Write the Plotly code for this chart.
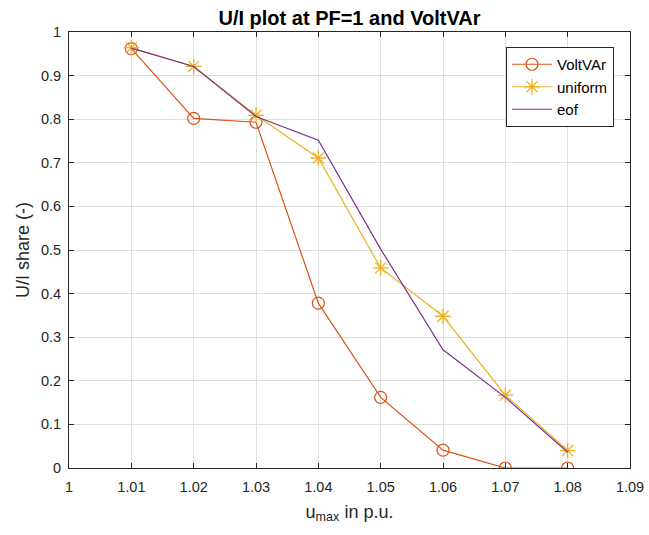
import plotly.graph_objects as go

# Maximum voltage (p.u.) and U/I share per control strategy
u_max = [1.01, 1.02, 1.03, 1.04, 1.05, 1.06, 1.07, 1.08]
voltvar = [0.962, 0.802, 0.793, 0.378, 0.162, 0.041, 0.0, 0.0]
uniform = [0.964, 0.921, 0.809, 0.711, 0.459, 0.348, 0.167, 0.040]
eof = [0.963, 0.921, 0.806, 0.752, 0.502, 0.271, 0.162, 0.036]

x_ticks = [1.0, 1.01, 1.02, 1.03, 1.04, 1.05, 1.06, 1.07, 1.08, 1.09]
x_tick_text = ["1", "1.01", "1.02", "1.03", "1.04", "1.05", "1.06", "1.07", "1.08", "1.09"]
y_ticks = [0, 0.1, 0.2, 0.3, 0.4, 0.5, 0.6, 0.7, 0.8, 0.9, 1.0]
y_tick_text = ["0", "0.1", "0.2", "0.3", "0.4", "0.5", "0.6", "0.7", "0.8", "0.9", "1"]

FONT = "Liberation Sans, Arial, sans-serif"
AX = "#262626"

fig = go.Figure()
fig.add_trace(go.Scatter(
    x=u_max, y=voltvar, name="VoltVAr", mode="lines+markers",
    line=dict(color="#D95319", width=1.2),
    marker=dict(symbol="circle-open", size=12, color="#D95319", line=dict(width=1.2)),
))
fig.add_trace(go.Scatter(
    x=u_max, y=uniform, name="uniform", mode="lines+markers",
    line=dict(color="#EDB120", width=1.2),
    marker=dict(symbol="asterisk-open", size=13, color="#EDB120", line=dict(width=1.3, color="#EDB120")),
))
fig.add_trace(go.Scatter(
    x=u_max, y=eof, name="eof", mode="lines",
    line=dict(color="#7E2F8E", width=1.2),
))

axis_common = dict(
    showgrid=True, gridcolor="#dfdfdf", gridwidth=1,
    showline=True, linecolor=AX, linewidth=1, mirror="ticks",
    ticks="inside", ticklen=5, tickcolor=AX, tickwidth=1,
    zeroline=False, automargin=False,
    tickfont=dict(family=FONT, size=14.5, color=AX),
)

fig.update_xaxes(
    range=[1.0, 1.09], tickvals=x_ticks, ticktext=x_tick_text,
    ticklabelstandoff=6,
    title=dict(text="u<sub>max</sub> in p.u.", font=dict(family=FONT, size=18, color=AX), standoff=10),
    **axis_common,
)
fig.update_yaxes(
    range=[0, 1], tickvals=y_ticks, ticktext=y_tick_text,
    ticklabelstandoff=4,
    title=dict(text="U/I share (-)", font=dict(family=FONT, size=18, color=AX), standoff=6),
    **axis_common,
)

fig.update_layout(
    width=649, height=535,
    margin=dict(l=69, r=19, t=32, b=67),
    paper_bgcolor="white", plot_bgcolor="white",
    title=dict(text="<b>U/I plot at PF=1 and VoltVAr</b>", x=0.5, xanchor="center",
               xref="paper", y=1 - 17.5 / 535, yanchor="middle",
               font=dict(family=FONT, size=20, color="black")),
    legend=dict(
        x=0.9715, y=0.9656, xanchor="right", yanchor="top",
        bgcolor="white", bordercolor=AX, borderwidth=1,
        font=dict(family=FONT, size=15, color="black"),
        tracegroupgap=0, itemwidth=40,
    ),
    showlegend=True,
)

fig.write_html("out.html")
